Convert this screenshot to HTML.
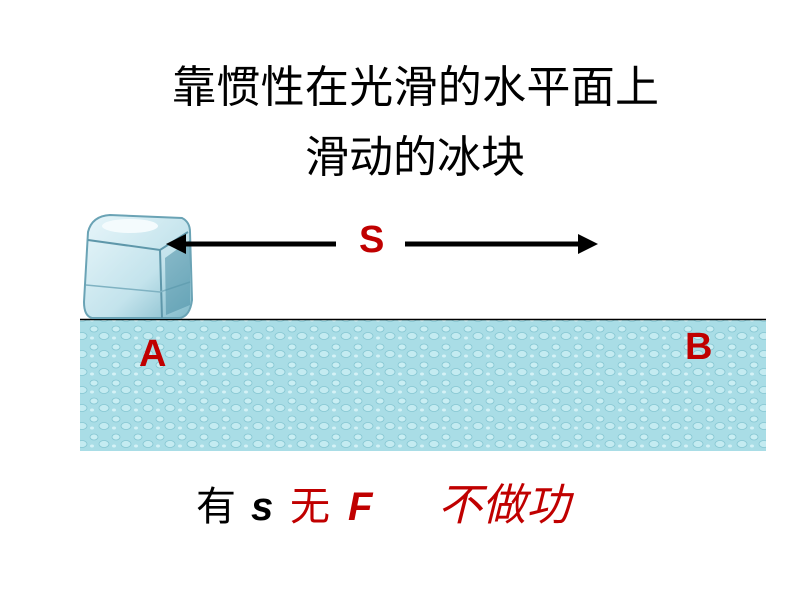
<!DOCTYPE html>
<html><head><meta charset="utf-8"><style>
body{margin:0;width:800px;height:600px;background:#fff;position:relative;overflow:hidden;font-family:"Liberation Sans","Noto Sans CJK SC",sans-serif}
.t{position:absolute;white-space:nowrap}
</style></head><body>
<div class="t" style="left:172px;top:64px;font-size:44px;line-height:48px;color:#000;letter-spacing:0.3px">靠惯性在光滑的水平面上</div>
<div class="t" style="left:305px;top:134px;font-size:44px;line-height:48px;color:#000">滑动的冰块</div>
<svg width="800" height="600" style="position:absolute;left:0;top:0">
<defs>
<pattern id="d" width="22" height="18" patternUnits="userSpaceOnUse">
<rect width="22" height="18" fill="#a9dde6"/>
<ellipse cx="6" cy="5" rx="4" ry="3" fill="#c9eef3" stroke="#86c6d2" stroke-width="0.8"/>
<ellipse cx="16" cy="12" rx="5" ry="3.5" fill="#c4ebf1" stroke="#86c6d2" stroke-width="0.8"/>
<ellipse cx="4" cy="14" rx="2" ry="1.5" fill="#d5f2f6"/>
</pattern>
<linearGradient id="ice" x1="0" y1="0" x2="1" y2="1"><stop offset="0" stop-color="#e8f6fa"/><stop offset="0.6" stop-color="#c3e3ec"/><stop offset="1" stop-color="#7fb9c9"/></linearGradient>
</defs>
<rect x="80" y="319" width="686" height="132" fill="url(#d)"/>
<line x1="80" y1="319.5" x2="766" y2="319.5" stroke="#000" stroke-width="1.5"/>
<g>
<path d="M88 232 Q92 216 110 215 L182 218 Q190 222 190 232 L192 300 Q190 316 180 318 L92 318 Q84 316 84 302 Z" fill="url(#ice)" stroke="#6aa3b5" stroke-width="2"/>
<path d="M88 240 L160 250 L188 232" fill="none" stroke="#5e97aa" stroke-width="2"/>
<path d="M160 250 L162 318" fill="none" stroke="#5e97aa" stroke-width="2"/>
<path d="M86 285 L160 292 L190 282" fill="none" stroke="#7fb2c2" stroke-width="1.5"/>
<path d="M165 258 L190 240 L190 305 L166 315 Z" fill="#4d90a6" opacity="0.55"/>
<ellipse cx="130" cy="226" rx="28" ry="7" fill="#f4fbfd"/>
</g>
<line x1="180" y1="244" x2="336" y2="244" stroke="#000" stroke-width="5"/>
<polygon points="166,244 186,234 186,254" fill="#000"/>
<line x1="405" y1="244" x2="582" y2="244" stroke="#000" stroke-width="5"/>
<polygon points="598,244 578,234 578,254" fill="#000"/>
</svg>
<div class="t" style="left:359px;top:219px;font-size:38px;font-weight:bold;color:#c00000">S</div>
<div class="t" style="left:139px;top:333px;font-size:38px;font-weight:bold;color:#c00000">A</div>
<div class="t" style="left:685px;top:326px;font-size:38px;font-weight:bold;color:#c00000">B</div>
<div class="t" style="left:196px;top:484px;font-size:40px;line-height:46px;color:#000">有</div>
<div class="t" style="left:251px;top:484px;font-size:40px;line-height:46px;color:#000;font-weight:bold;font-style:italic">s</div>
<div class="t" style="left:290px;top:484px;font-size:40px;line-height:46px;color:#c00000">无</div>
<div class="t" style="left:348px;top:484px;font-size:40px;line-height:46px;color:#c00000;font-weight:bold;font-style:italic">F</div>
<div class="t" style="left:438px;top:482px;font-size:44px;line-height:48px;color:#c00000;font-style:italic">不做功</div>
</body></html>
